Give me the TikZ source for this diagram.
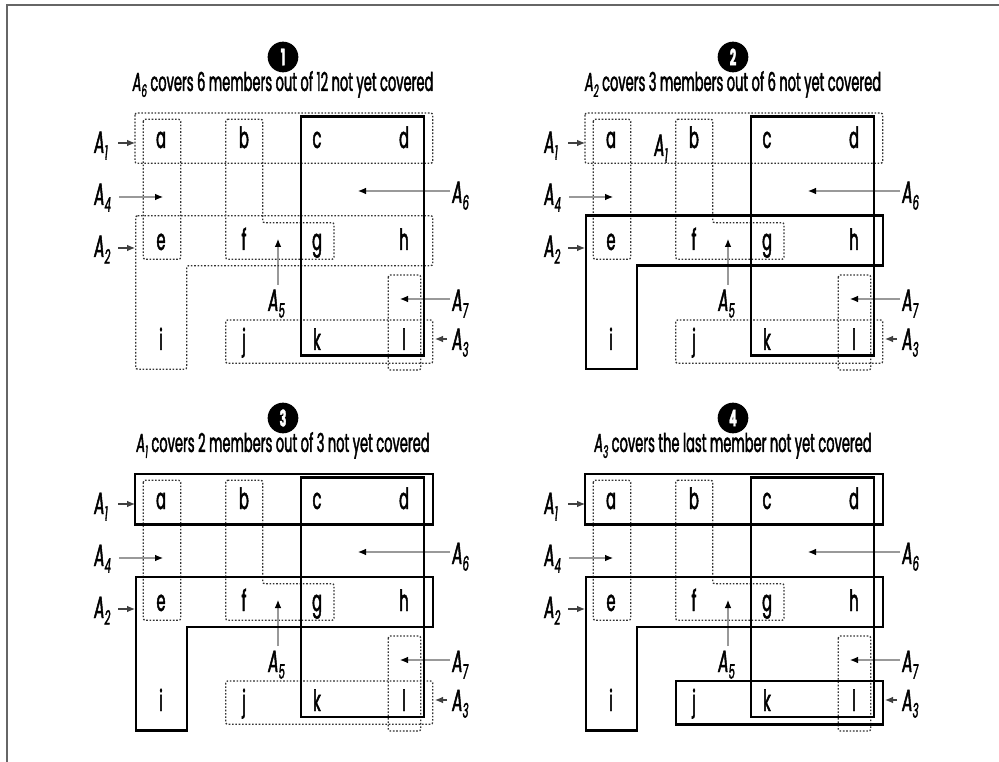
\documentclass[tikz,border=0pt]{standalone}
\usepackage{fontspec}
\setmainfont{Poppins}[FakeStretch=0.5,FakeBold=1.6]
\usetikzlibrary{arrows.meta}
\newcommand{\sbs}[1]{\raisebox{-5pt}{\fontsize{15pt}{15pt}\selectfont #1}}
\newcommand{\csbs}[1]{\raisebox{-4.5pt}{\fontsize{13pt}{13pt}\selectfont #1}}
\tikzset{
  dotbox/.style={draw=black!80, line width=1pt, dash pattern=on 1.2pt off 1.3pt, rounded corners=1.5pt},
  solidbox/.style={draw=black, line width=1.8pt},
  letter/.style={font=\fontsize{22pt}{22pt}\selectfont, inner sep=0pt, anchor=base},
  lab/.style={font=\fontsize{23pt}{23pt}\selectfont\itshape, inner sep=0pt, anchor=base west},
  capt/.style={font=\fontsize{19.5pt}{19.5pt}\selectfont, inner sep=0pt, anchor=base},
  num/.style={circle, fill=black, text=white, minimum size=23pt, inner sep=0pt, font=\fontsize{17pt}{17pt}\selectfont\bfseries},
  darrow/.style={draw=black!75, line width=0.8pt, -{Latex[length=6pt,width=5pt]}},
  garrow/.style={draw=black!40, line width=0.8pt, -{Latex[length=6pt,width=5pt,color=black]}},
}
\newcommand{\setAone}[1]{\draw[#1] (135,113) rectangle (432.7,163.3);}
\newcommand{\setAtwo}[1]{\draw[#1] (135.7,215.7) -- (432.7,215.7) -- (432.7,265.7) -- (186.7,265.7) -- (186.7,369.3) -- (135.7,369.3) -- cycle;}
\newcommand{\setAthree}[1]{\draw[#1] (225.7,320) rectangle (432.7,363.3);}
\newcommand{\setAsix}{\draw[solidbox] (301,116.7) rectangle (424,355.7);}
\newcommand{\common}[3]{%
  \node[num] (#1n) at (283,57) {#2};
  \node[capt] (#1c) at (283,91) {#3};
  % sets that stay dotted
  \draw[dotbox] (143.3,119.3) rectangle (180.7,259.3);
  \draw[dotbox] (225.7,119.3) -- (262.7,119.3) -- (262.7,222.7) -- (334,222.7) -- (334,259.3) -- (225.7,259.3) -- cycle;
  \draw[dotbox] (388.3,275) rectangle (420.7,370);
  % letters
  \node[letter] (#1a) at (161,148) {a};
  \node[letter] (#1b) at (244,148) {b};
  \node[letter] (#1cc) at (317,148) {c};
  \node[letter] (#1d) at (404,148) {d};
  \node[letter] (#1e) at (161,250) {e};
  \node[letter] (#1f) at (244,250) {f};
  \node[letter] (#1g) at (317,250) {g};
  \node[letter] (#1h) at (404,250) {h};
  \node[letter] (#1i) at (161,350) {i};
  \node[letter] (#1j) at (244,350) {j};
  \node[letter] (#1k) at (317,350) {k};
  \node[letter] (#1l) at (404,350) {l};
  % labels
  \node[lab] (#1L1) at (94,153) {A\sbs{1}};
  \node[lab] (#1L4) at (94,205) {A\sbs{4}};
  \node[lab] (#1L2) at (94,257) {A\sbs{2}};
  \node[lab] (#1L5) at (268,311) {A\sbs{5}};
  \node[lab] (#1L6) at (452,203) {A\sbs{6}};
  \node[lab] (#1L7) at (452,311) {A\sbs{7}};
  \node[lab] (#1L3) at (452,350) {A\sbs{3}};
  % arrows
  \coordinate (#1s1) at (118,143); \coordinate (#1t1) at (135,143);
  \coordinate (#1s4) at (119,197); \coordinate (#1t4) at (163,197);
  \coordinate (#1s2) at (118,248); \coordinate (#1t2) at (135,248);
  \coordinate (#1s6) at (450,191); \coordinate (#1t6) at (358,191);
  \coordinate (#1s7) at (450,299); \coordinate (#1t7) at (400,299);
  \coordinate (#1s3) at (447,339); \coordinate (#1t3) at (435,339);
  \coordinate (#1s5) at (278,285); \coordinate (#1t5) at (278,239);
  \draw[darrow] (#1s1) -- (#1t1);
  \draw[garrow] (#1s4) -- (#1t4);
  \draw[darrow] (#1s2) -- (#1t2);
  \draw[garrow] (#1s6) -- (#1t6);
  \draw[garrow] (#1s7) -- (#1t7);
  \draw[darrow] (#1s3) -- (#1t3);
  \draw[garrow] (#1s5) -- (#1t5);
}
\begin{document}
\begin{tikzpicture}[x=0.75pt,y=-0.75pt]
\useasboundingbox (0,0) rectangle (999,762);
\draw[black!60, line width=1.9pt] (7,762) -- (7,5) -- (999,5);
% panel 1
\begin{scope}
  \common{p1}{1}{{\itshape A\csbs{6}} covers 6 members out of 12 not yet covered}
  \setAone{dotbox}\setAtwo{dotbox}\setAthree{dotbox}
  \setAsix
\end{scope}
% panel 2
\begin{scope}[shift={(450,0)}]
  \common{p2}{2}{{\itshape A\csbs{2}} covers 3 members out of 6 not yet covered}
  \node[lab] (p2x) at (204,156) {A\sbs{1}};
  \setAone{dotbox}\setAthree{dotbox}
  \setAsix\setAtwo{solidbox}
\end{scope}
% panel 3
\begin{scope}[shift={(0,361)}]
  \common{p3}{3}{{\itshape A\csbs{1}} covers 2 members out of 3 not yet covered}
  \setAthree{dotbox}
  \setAsix\setAtwo{solidbox}\setAone{solidbox}
\end{scope}
% panel 4
\begin{scope}[shift={(450,361)}]
  \common{p4}{4}{{\itshape A\csbs{3}} covers the last member not yet covered}
  \setAsix\setAtwo{solidbox}\setAone{solidbox}\setAthree{solidbox}
\end{scope}
\end{tikzpicture}
\end{document}
